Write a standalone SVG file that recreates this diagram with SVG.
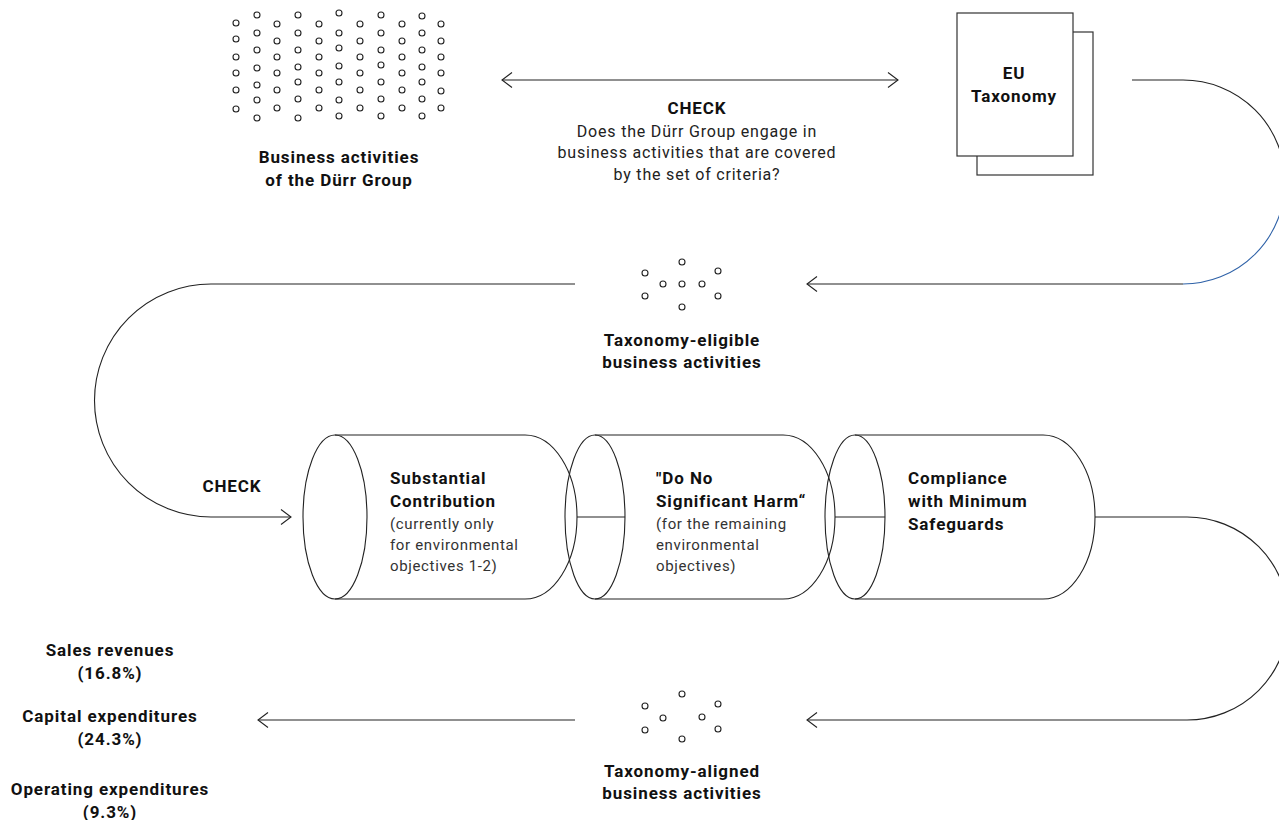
<svg xmlns="http://www.w3.org/2000/svg" width="1279" height="820" viewBox="0 0 1279 820">
<style>
.dot{fill:none;stroke:#222;stroke-width:1.1}
.ln{fill:none;stroke:#222;stroke-width:1.1}
.cyl{fill:none;stroke:#222;stroke-width:1.1}
.doc{fill:#fff;stroke:#333;stroke-width:1.2}
text{font-family:Roboto,"Liberation Sans",sans-serif;fill:#111}
.b{font-weight:700;font-size:17px;letter-spacing:0.9px}
.r{font-weight:400;font-size:15px;fill:#333;letter-spacing:0.65px}
.r16{font-weight:400;font-size:16px;fill:#222;letter-spacing:0.8px}
.c{text-anchor:middle}
</style>
<defs>
<marker id="ah" viewBox="0 0 12 16" refX="11" refY="8" markerWidth="12" markerHeight="16" markerUnits="userSpaceOnUse" orient="auto-start-reverse">
<path d="M1,0.5 L11,8 L1,15.5" fill="none" stroke="#222" stroke-width="1.1"/>
</marker>
</defs>
<rect width="1279" height="820" fill="#fff"/>

<g id="business-activities">
<g class="dot-grid">
<circle class="dot" cx="236" cy="23" r="3"/><circle class="dot" cx="236" cy="39" r="3"/><circle class="dot" cx="236" cy="57" r="3"/><circle class="dot" cx="236" cy="73" r="3"/><circle class="dot" cx="236" cy="90" r="3"/><circle class="dot" cx="236" cy="109" r="3"/>
<circle class="dot" cx="257" cy="15" r="3"/><circle class="dot" cx="257" cy="33" r="3"/><circle class="dot" cx="257" cy="50" r="3"/><circle class="dot" cx="257" cy="68" r="3"/><circle class="dot" cx="257" cy="85" r="3"/><circle class="dot" cx="257" cy="100" r="3"/><circle class="dot" cx="257" cy="118" r="3"/>
<circle class="dot" cx="277" cy="24" r="3"/><circle class="dot" cx="277" cy="41" r="3"/><circle class="dot" cx="277" cy="57" r="3"/><circle class="dot" cx="277" cy="73" r="3"/><circle class="dot" cx="277" cy="90" r="3"/><circle class="dot" cx="277" cy="108" r="3"/>
<circle class="dot" cx="298" cy="15" r="3"/><circle class="dot" cx="298" cy="33" r="3"/><circle class="dot" cx="298" cy="50" r="3"/><circle class="dot" cx="298" cy="67" r="3"/><circle class="dot" cx="298" cy="82" r="3"/><circle class="dot" cx="298" cy="99" r="3"/><circle class="dot" cx="298" cy="118" r="3"/>
<circle class="dot" cx="319" cy="24" r="3"/><circle class="dot" cx="319" cy="41" r="3"/><circle class="dot" cx="319" cy="57" r="3"/><circle class="dot" cx="319" cy="73" r="3"/><circle class="dot" cx="319" cy="90" r="3"/><circle class="dot" cx="319" cy="108" r="3"/>
<circle class="dot" cx="339" cy="13" r="3"/><circle class="dot" cx="339" cy="33" r="3"/><circle class="dot" cx="339" cy="48" r="3"/><circle class="dot" cx="339" cy="66" r="3"/><circle class="dot" cx="339" cy="82" r="3"/><circle class="dot" cx="339" cy="100" r="3"/><circle class="dot" cx="339" cy="116" r="3"/>
<circle class="dot" cx="360" cy="24" r="3"/><circle class="dot" cx="360" cy="41" r="3"/><circle class="dot" cx="360" cy="57" r="3"/><circle class="dot" cx="360" cy="73" r="3"/><circle class="dot" cx="360" cy="90" r="3"/><circle class="dot" cx="360" cy="108" r="3"/>
<circle class="dot" cx="381" cy="15" r="3"/><circle class="dot" cx="381" cy="33" r="3"/><circle class="dot" cx="381" cy="50" r="3"/><circle class="dot" cx="381" cy="65" r="3"/><circle class="dot" cx="381" cy="82" r="3"/><circle class="dot" cx="381" cy="99" r="3"/><circle class="dot" cx="381" cy="116" r="3"/>
<circle class="dot" cx="402" cy="24" r="3"/><circle class="dot" cx="402" cy="41" r="3"/><circle class="dot" cx="402" cy="57" r="3"/><circle class="dot" cx="402" cy="73" r="3"/><circle class="dot" cx="402" cy="90" r="3"/><circle class="dot" cx="402" cy="108" r="3"/>
<circle class="dot" cx="422" cy="16" r="3"/><circle class="dot" cx="422" cy="33" r="3"/><circle class="dot" cx="422" cy="50" r="3"/><circle class="dot" cx="422" cy="67" r="3"/><circle class="dot" cx="422" cy="82" r="3"/><circle class="dot" cx="422" cy="99" r="3"/><circle class="dot" cx="422" cy="116" r="3"/>
<circle class="dot" cx="441" cy="24" r="3"/><circle class="dot" cx="441" cy="41" r="3"/><circle class="dot" cx="441" cy="57" r="3"/><circle class="dot" cx="441" cy="73" r="3"/><circle class="dot" cx="441" cy="91" r="3"/><circle class="dot" cx="441" cy="108" r="3"/>
</g>
<text class="b c" x="339" y="163">Business activities</text>
<text class="b c" x="339" y="186">of the Dürr Group</text>
</g>

<g id="eu-taxonomy">
<rect class="doc" x="977" y="32" width="116" height="143"/>
<rect class="doc" x="957" y="13" width="116" height="143"/>
<text class="b c" x="1014" y="79">EU</text>
<text class="b c" x="1014" y="102">Taxonomy</text>
</g>

<g id="check-label-top">
<text class="b c" x="697" y="114">CHECK</text>
<text class="r16 c" x="697" y="137">Does the Dürr Group engage in</text>
<text class="r16 c" x="697" y="158">business activities that are covered</text>
<text class="r16 c" x="697" y="180">by the set of criteria?</text>
</g>

<g id="taxonomy-eligible">
<circle class="dot" cx="682" cy="262" r="3"/><circle class="dot" cx="645" cy="273" r="3"/><circle class="dot" cx="718" cy="271" r="3"/>
<circle class="dot" cx="663" cy="284" r="3"/><circle class="dot" cx="682" cy="284" r="3"/><circle class="dot" cx="702" cy="284" r="3"/>
<circle class="dot" cx="645" cy="296" r="3"/><circle class="dot" cx="718" cy="296" r="3"/><circle class="dot" cx="682" cy="307" r="3"/>
<text class="b c" x="682" y="346">Taxonomy-eligible</text>
<text class="b c" x="682" y="368">business activities</text>
</g>

<g id="check-label-left">
<text class="b c" x="232" y="492">CHECK</text>
</g>

<g id="substantial-contribution">
<path class="cyl" d="M335,435 H525 A52,82 0 0 1 525,599 H335"/>
<ellipse class="cyl" cx="335" cy="517" rx="32" ry="82"/>
<text class="b" x="390" y="484">Substantial</text>
<text class="b" x="390" y="507">Contribution</text>
<text class="r" x="390" y="529">(currently only</text>
<text class="r" x="390" y="550">for environmental</text>
<text class="r" x="390" y="571">objectives 1-2)</text>
</g>

<g id="do-no-significant-harm">
<path class="cyl" d="M595,435 H783 A52,82 0 0 1 783,599 H595"/>
<ellipse class="cyl" cx="595" cy="517" rx="30" ry="82"/>
<text class="b" x="656" y="484">"Do No</text>
<text class="b" x="656" y="507">Significant Harm“</text>
<text class="r" x="656" y="529">(for the remaining</text>
<text class="r" x="656" y="550">environmental</text>
<text class="r" x="656" y="571">objectives)</text>
</g>

<g id="minimum-safeguards">
<path class="cyl" d="M855,435 H1043 A52,82 0 0 1 1043,599 H855"/>
<ellipse class="cyl" cx="855" cy="517" rx="30" ry="82"/>
<text class="b" x="908" y="484">Compliance</text>
<text class="b" x="908" y="507">with Minimum</text>
<text class="b" x="908" y="530">Safeguards</text>
</g>

<g id="taxonomy-aligned">
<circle class="dot" cx="682" cy="694" r="3"/><circle class="dot" cx="645" cy="706" r="3"/><circle class="dot" cx="718" cy="704" r="3"/>
<circle class="dot" cx="663" cy="718" r="3"/><circle class="dot" cx="702" cy="717" r="3"/>
<circle class="dot" cx="645" cy="730" r="3"/><circle class="dot" cx="718" cy="729" r="3"/><circle class="dot" cx="682" cy="739" r="3"/>
<text class="b c" x="682" y="777">Taxonomy-aligned</text>
<text class="b c" x="682" y="799">business activities</text>
</g>

<g id="kpis">
<text class="b c" x="110" y="656">Sales revenues</text>
<text class="b c" x="110" y="679">(16.8%)</text>
<text class="b c" x="110" y="722">Capital expenditures</text>
<text class="b c" x="110" y="745">(24.3%)</text>
<text class="b c" x="110" y="795">Operating expenditures</text>
<text class="b c" x="110" y="818">(9.3%)</text>
</g>

<g id="connectors">
<line class="ln" x1="502" y1="80" x2="898" y2="80" marker-start="url(#ah)" marker-end="url(#ah)"/>
<path class="ln" d="M1132,80 H1183 A102,102 0 0 1 1285,182"/>
<path fill="none" stroke="#2f62a8" stroke-width="1.1" d="M1285,182 A102,102 0 0 1 1183,284"/>
<path class="ln" d="M1183,284 H807" marker-end="url(#ah)"/>
<path class="ln" d="M575,284 H211 A116.5,116.5 0 0 0 211,517 H291" marker-end="url(#ah)"/>
<line class="ln" x1="577" y1="517" x2="625" y2="517"/>
<line class="ln" x1="835" y1="517" x2="885" y2="517"/>
<path class="ln" d="M1095,517 H1187 A101.5,101.5 0 0 1 1187,720 H807" marker-end="url(#ah)"/>
<path class="ln" d="M575,720 H258" marker-end="url(#ah)"/>
</g>
</svg>
